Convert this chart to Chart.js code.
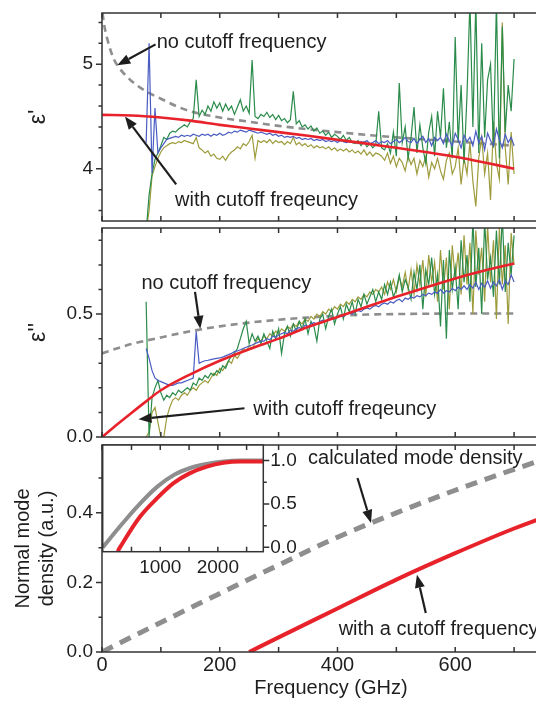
<!DOCTYPE html>
<html>
<head>
<meta charset="utf-8">
<script src="https://cdn.jsdelivr.net/npm/chart.js@4.4.0/dist/chart.umd.min.js"></script>
<style>
  html, body { margin: 0; padding: 0; background: #fff; }
  #fig { position: relative; width: 536px; height: 710px; overflow: hidden; background: #fff; }
  #fig canvas { position: absolute; }
</style>
</head>
<body>
<div id="fig">
  <canvas id="p1" width="560" height="224" style="left:0;top:0"></canvas>
  <canvas id="p2" width="560" height="230" style="left:0;top:224px"></canvas>
  <canvas id="p3" width="560" height="270" style="left:0;top:440px"></canvas>
  <canvas id="inset" width="260" height="150" style="left:60px;top:440px"></canvas>
</div>
<script>
'use strict';

function byId(id) { return document.getElementById(id); }

// measured spectra, 75..700 GHz every 5 GHz
const freq = [
  75, 80, 85, 90, 95, 100, 105, 110, 115, 120,
  125, 130, 135, 140, 145, 150, 155, 160, 165, 170,
  175, 180, 185, 190, 195, 200, 205, 210, 215, 220,
  225, 230, 235, 240, 245, 250, 255, 260, 265, 270,
  275, 280, 285, 290, 295, 300, 305, 310, 315, 320,
  325, 330, 335, 340, 345, 350, 355, 360, 365, 370,
  375, 380, 385, 390, 395, 400, 405, 410, 415, 420,
  425, 430, 435, 440, 445, 450, 455, 460, 465, 470,
  475, 480, 485, 490, 495, 500, 505, 510, 515, 520,
  525, 530, 535, 540, 545, 550, 555, 560, 565, 570,
  575, 580, 585, 590, 595, 600, 605, 610, 615, 620,
  625, 630, 635, 640, 645, 650, 655, 660, 665, 670,
  675, 680, 685, 690, 695, 700
];

const eps1Green = [
  3.40, 3.75, 3.95, 4.09, 4.15, 4.22, 4.30, 4.28, 4.34, 4.36,
  4.35, 4.38, 4.40, 4.42, 4.40, 4.45, 4.48, 4.85, 4.50, 4.56,
  4.52, 4.60, 4.55, 4.64, 4.58, 4.63, 4.55, 4.62, 4.56, 4.60,
  4.52, 4.59, 4.66, 4.55, 4.60, 4.53, 5.04, 4.50, 4.48, 4.52,
  4.50, 4.54, 4.49, 4.52, 4.47, 4.51, 4.46, 4.48, 4.44, 4.47,
  4.74, 4.43, 4.46, 4.40, 4.42, 4.38, 4.41, 4.36, 4.39, 4.34,
  4.36, 4.32, 4.35, 4.30, 4.33, 4.31, 4.28, 4.32, 4.27, 4.30,
  4.25, 4.24, 4.27, 4.22, 4.26, 4.21, 4.24, 4.20, 4.23, 4.55,
  4.20, 4.18, 4.24, 4.15, 4.35, 4.12, 4.82, 4.25, 4.40, 4.10,
  4.30, 4.59, 4.15, 4.42, 4.20, 4.05, 4.35, 4.50, 4.12, 4.55,
  4.30, 4.77, 4.20, 4.45, 4.10, 5.26, 4.25, 4.80, 4.05, 4.70,
  5.60, 4.40, 5.60, 4.15, 5.20, 4.30, 4.85, 5.00, 4.20, 5.60,
  4.10, 5.36, 4.35, 4.80, 4.55, 5.05
];
const eps1Blue = [
  4.25, 5.20, 3.96, 4.58, 4.15, 4.20, 4.24, 4.28, 4.29, 4.30,
  4.31, 4.30, 4.32, 4.31, 4.32, 4.31, 4.33, 4.32, 4.31, 4.33,
  4.32, 4.33, 4.31, 4.33, 4.32, 4.34, 4.32, 4.33, 4.35, 4.34,
  4.36, 4.35, 4.37, 4.36, 4.35, 4.37, 4.36, 4.35, 4.34, 4.35,
  4.34, 4.33, 4.34, 4.32, 4.33, 4.31, 4.32, 4.30, 4.31, 4.30,
  4.31, 4.29, 4.30, 4.28, 4.29, 4.28, 4.29, 4.27, 4.28, 4.27,
  4.28, 4.26, 4.27, 4.26, 4.27, 4.25, 4.27, 4.26, 4.25, 4.26,
  4.25, 4.26, 4.24, 4.26, 4.25, 4.27, 4.24, 4.25, 4.27, 4.24,
  4.26, 4.25, 4.27, 4.24, 4.26, 4.28, 4.25, 4.27, 4.30, 4.26,
  4.25, 4.29, 4.24, 4.28, 4.31, 4.25, 4.29, 4.22, 4.30, 4.27,
  4.30, 4.24, 4.33, 4.27, 4.22, 4.34, 4.28, 4.20, 4.32, 4.26,
  4.30, 4.22, 4.36, 4.25, 4.31, 4.18, 4.34, 4.27, 4.22, 4.38,
  4.28, 4.20, 4.33, 4.25, 4.30, 4.22
];
const eps1Olive = [
  3.40, 3.60, 3.93, 4.02, 4.10, 4.16, 4.20, 4.22, 4.24, 4.25,
  4.24, 4.26, 4.25, 4.27, 4.26, 4.25, 4.24, 4.30, 4.20, 4.18,
  4.15, 4.17, 4.12, 4.14, 4.10, 4.09, 4.12, 4.08, 4.13, 4.16,
  4.18, 4.21, 4.19, 4.24, 4.22, 4.26, 4.32, 4.10, 4.27, 4.25,
  4.27, 4.25, 4.28, 4.24, 4.27, 4.25, 4.26, 4.23, 4.26, 4.24,
  4.30, 4.23, 4.25, 4.22, 4.24, 4.21, 4.23, 4.20, 4.22, 4.20,
  4.21, 4.19, 4.21, 4.18, 4.20, 4.17, 4.19, 4.17, 4.19, 4.16,
  4.18, 4.15, 4.17, 4.14, 4.18, 4.13, 4.16, 4.12, 4.15, 4.14,
  4.12, 4.08, 4.15, 4.05, 4.12, 4.02, 4.10, 4.06, 3.98, 4.12,
  4.04, 4.10, 3.95, 4.08, 4.02, 4.12, 3.92, 4.06, 4.00, 4.10,
  3.98, 3.90, 4.08, 4.15, 3.95, 4.02, 4.20, 3.85, 4.10, 3.95,
  4.25, 3.88, 3.64, 4.10, 4.30, 3.95, 4.15, 3.70, 4.45, 4.05,
  3.90, 5.40, 4.20, 3.85, 4.35, 3.95
];

const eps2Green = [
  0.55, 0.00, 0.16, 0.20, 0.23, 0.18, 0.15, 0.17, 0.16, 0.18,
  0.17, 0.19, 0.18, 0.19, 0.20, 0.19, 0.22, 0.21, 0.24, 0.23,
  0.25, 0.24, 0.26, 0.25, 0.27, 0.26, 0.29, 0.28, 0.31, 0.33,
  0.34, 0.36, 0.40, 0.44, 0.47, 0.38, 0.42, 0.39, 0.41, 0.38,
  0.42, 0.39, 0.36, 0.43, 0.40, 0.44, 0.34, 0.42, 0.45, 0.41,
  0.46, 0.43, 0.47, 0.44, 0.48, 0.42, 0.47, 0.45, 0.39, 0.48,
  0.50, 0.44, 0.49, 0.52, 0.46, 0.50, 0.53, 0.48, 0.54, 0.51,
  0.55, 0.50, 0.56, 0.53, 0.58, 0.54, 0.57, 0.60, 0.55, 0.59,
  0.56, 0.62, 0.58, 0.63, 0.57, 0.60, 0.66, 0.59, 0.64, 0.61,
  0.56, 0.67, 0.60, 0.70, 0.52, 0.68, 0.62, 0.73, 0.58, 0.66,
  0.45, 0.72, 0.40, 0.76, 0.60, 0.69, 0.52, 0.80, 0.63, 0.74,
  0.55, 0.88, 0.61, 0.77, 0.50, 0.88, 0.64, 0.73, 0.57, 0.84,
  0.62, 0.90, 0.59, 0.79, 0.66, 0.82
];
const eps2Blue = [
  0.36, 0.32, 0.27, 0.24, 0.23, 0.225, 0.22, 0.215, 0.21, 0.21,
  0.215, 0.22, 0.22, 0.225, 0.23, 0.235, 0.24, 0.43, 0.30, 0.306,
  0.31, 0.312, 0.315, 0.318, 0.32, 0.322, 0.325, 0.33, 0.335, 0.34,
  0.347, 0.35, 0.355, 0.36, 0.365, 0.37, 0.374, 0.38, 0.385, 0.39,
  0.39, 0.40, 0.395, 0.41, 0.405, 0.415, 0.42, 0.425, 0.42, 0.435,
  0.43, 0.44, 0.445, 0.44, 0.455, 0.45, 0.46, 0.465, 0.46, 0.47,
  0.475, 0.47, 0.48, 0.485, 0.48, 0.49, 0.495, 0.49, 0.50, 0.505,
  0.50, 0.51, 0.515, 0.51, 0.52, 0.525, 0.52, 0.53, 0.535, 0.53,
  0.54, 0.545, 0.54, 0.55, 0.545, 0.555, 0.56, 0.55, 0.565, 0.56,
  0.57, 0.565, 0.575, 0.57, 0.58, 0.575, 0.585, 0.58, 0.59, 0.585,
  0.60, 0.585, 0.595, 0.59, 0.605, 0.595, 0.61, 0.60, 0.615, 0.60,
  0.62, 0.605, 0.63, 0.60, 0.625, 0.61, 0.635, 0.605, 0.63, 0.615,
  0.64, 0.60, 0.635, 0.62, 0.66, 0.63
];
const eps2Olive = [
  0.00, 0.02, 0.10, 0.12, 0.06, 0.00, 0.00, 0.08, 0.12, 0.15,
  0.16, 0.15, 0.17, 0.18, 0.17, 0.19, 0.20, 0.19, 0.21, 0.22,
  0.23, 0.22, 0.24, 0.26, 0.25, 0.28, 0.27, 0.29, 0.31, 0.30,
  0.33, 0.32, 0.34, 0.36, 0.35, 0.37, 0.36, 0.38, 0.40, 0.39,
  0.41, 0.40, 0.42, 0.41, 0.43, 0.42, 0.44, 0.43, 0.45, 0.44,
  0.46, 0.45, 0.47, 0.46, 0.48, 0.47, 0.49, 0.48, 0.50, 0.49,
  0.51, 0.50, 0.52, 0.51, 0.53, 0.52, 0.54, 0.53, 0.55, 0.54,
  0.56, 0.55, 0.57, 0.56, 0.58, 0.57, 0.59, 0.58, 0.60, 0.59,
  0.61, 0.58, 0.63, 0.60, 0.64, 0.59, 0.65, 0.61, 0.67, 0.60,
  0.68, 0.58, 0.70, 0.62, 0.72, 0.57, 0.74, 0.63, 0.71, 0.55,
  0.76, 0.60, 0.73, 0.52, 0.78, 0.64, 0.75, 0.58, 0.82, 0.62,
  0.79, 0.50, 0.84, 0.66, 0.77, 0.55, 0.86, 0.63, 0.80, 0.48,
  0.85, 0.62, 0.78, 0.46, 0.83, 0.70
];

// model curves
const fitFreq1 = [0, 50, 100, 150, 200, 250, 300, 350, 400, 450, 500, 550, 600, 650, 700];
const eps1Fit = [4.515, 4.51, 4.49, 4.46, 4.42, 4.385, 4.35, 4.315, 4.277, 4.24, 4.20, 4.16, 4.115, 4.06, 4.00];
const noCutFreq1 = [1, 3, 10, 20, 30, 50, 75, 100, 130, 150, 200, 250, 300, 400, 500, 600, 700];
const eps1NoCut = [5.49, 5.40, 5.22, 5.05, 4.96, 4.84, 4.74, 4.67, 4.59, 4.55, 4.49, 4.45, 4.41, 4.35, 4.30, 4.26, 4.22];

const fitFreq2 = [0, 25, 50, 75, 100, 150, 200, 250, 300, 350, 400, 450, 500, 550, 600, 650, 700];
const eps2Fit = [0, 0.05, 0.098, 0.145, 0.19, 0.255, 0.31, 0.357, 0.40, 0.447, 0.488, 0.53, 0.57, 0.608, 0.645, 0.677, 0.706];
const noCutFreq2 = [0, 25, 50, 100, 150, 200, 250, 300, 350, 400, 450, 500, 600, 700];
const eps2NoCut = [0.34, 0.36, 0.378, 0.405, 0.43, 0.45, 0.465, 0.477, 0.486, 0.493, 0.498, 0.50, 0.502, 0.502];

const modeFreq = [0, 100, 200, 300, 400, 500, 600, 700, 780];
const modeNoCut = [0, 0.085, 0.168, 0.25, 0.33, 0.40, 0.465, 0.525, 0.57];
const modeCutFreq = [250, 300, 400, 500, 600, 700, 780];
const modeCut = [0, 0.042, 0.125, 0.208, 0.284, 0.355, 0.405];

const insetFreqA = [0, 350, 600, 950, 1250, 1520, 1800, 2100, 2400, 2790];
const insetNoCut = [0, 0.28, 0.47, 0.70, 0.84, 0.915, 0.96, 0.99, 1.0, 1.0];
const insetFreqB = [260, 300, 650, 950, 1230, 1500, 1810, 2100, 2390, 2790];
const insetCut = [-0.045, 0, 0.355, 0.57, 0.74, 0.85, 0.93, 0.975, 0.99, 0.99];

// tick labels
const freqTicks = [0, 200, 400, 600];
const eps1Ticks = [4, 5];
const eps2Ticks = [0, 0.5];
const modeTicks = [0, 0.2, 0.4];
const insetXTicks = [1000, 2000];
const insetYTicks = [0, 0.5, 1.0];

const GREEN = '#2b8b4b';
const BLUE = '#4a5cc2';
const OLIVE = '#9d9b3b';
const RED = '#e8222b';
const GRAY = '#8e8e8e';
const INK = '#1e1e1e';
const FONT = '"Liberation Sans", Arial, sans-serif';
const X_MAX = 778;

Chart.defaults.font.family = FONT;
Chart.defaults.color = INK;


function series(xs, ys, color, width, dash, smooth) {
  return {
    data: xs.map((x, i) => ({ x: x, y: ys[i] })),
    borderColor: color,
    borderWidth: width,
    borderDash: dash || [],
    pointRadius: 0,
    fill: false,
    tension: 0,
    cubicInterpolationMode: smooth ? 'monotone' : 'default'
  };
}

// keep the plot area exactly where the padding puts it
function noLabelPadding(s) {
  s.paddingTop = 0;
  s.paddingBottom = 0;
  s.paddingLeft = 0;
  s.paddingRight = 0;
}


// box around plot area with inward x ticks and outward y ticks
function framePlugin(f) {
  return {
    id: 'frame',
    beforeDatasetsDraw(chart) {
      if (!f.fill) return;
      const a = chart.chartArea;
      chart.ctx.save();
      chart.ctx.fillStyle = '#fff';
      chart.ctx.fillRect(a.left, a.top, a.width, a.height);
      chart.ctx.restore();
    },
    afterDraw(chart) {
      const { ctx, chartArea: a } = chart;
      const xs = chart.scales.x;
      const ys = chart.scales.y;
      ctx.save();
      ctx.strokeStyle = '#333';
      ctx.lineWidth = 1.5;
      ctx.strokeRect(a.left, a.top, a.width, a.height);
      ctx.beginPath();
      for (let i = 0; f.xFrom + i * f.xStep <= xs.max; i++) {
        const px = xs.getPixelForValue(f.xFrom + i * f.xStep);
        ctx.moveTo(px, a.bottom);
        ctx.lineTo(px, a.bottom - 5);
        ctx.moveTo(px, a.top);
        ctx.lineTo(px, a.top + 5);
      }
      for (let i = 0; f.yFrom + i * f.yStep <= ys.max + 1e-9; i++) {
        const v = f.yFrom + i * f.yStep;
        const py = ys.getPixelForValue(v);
        const major = f.yMajor.some(m => Math.abs(m - v) < 1e-6);
        const len = major ? 6 : 3.5;
        if (f.right) {
          ctx.moveTo(a.right, py);
          ctx.lineTo(a.right + len, py);
        } else {
          ctx.moveTo(a.left - len, py);
          ctx.lineTo(a.left, py);
        }
      }
      ctx.stroke();
      ctx.restore();
    }
  };
}


function drawArrow(ctx, x0, y0, x1, y1) {
  const ang = Math.atan2(y1 - y0, x1 - x0);
  const head = 13;
  const half = 5;
  const bx = x1 - head * Math.cos(ang);
  const by = y1 - head * Math.sin(ang);
  ctx.beginPath();
  ctx.moveTo(x0, y0);
  ctx.lineTo(bx, by);
  ctx.stroke();
  ctx.beginPath();
  ctx.moveTo(x1, y1);
  ctx.lineTo(bx + half * Math.sin(ang), by - half * Math.cos(ang));
  ctx.lineTo(bx - half * Math.sin(ang), by + half * Math.cos(ang));
  ctx.closePath();
  ctx.fill();
}

// labels with arrows, placed in data coordinates
function notesPlugin(items) {
  return {
    id: 'notes',
    afterDraw(chart) {
      const { ctx } = chart;
      const xs = chart.scales.x;
      const ys = chart.scales.y;
      ctx.save();
      ctx.font = '20px ' + FONT;
      ctx.fillStyle = INK;
      ctx.strokeStyle = INK;
      ctx.lineWidth = 2.2;
      ctx.textBaseline = 'middle';
      ctx.textAlign = 'left';
      for (let it of items) {
        ctx.fillText(it.text, xs.getPixelForValue(it.at[0]), ys.getPixelForValue(it.at[1]));
        drawArrow(ctx,
          xs.getPixelForValue(it.from[0]), ys.getPixelForValue(it.from[1]),
          xs.getPixelForValue(it.to[0]), ys.getPixelForValue(it.to[1]));
      }
      ctx.restore();
    }
  };
}


function yAxis(min, max, ticks, fmt, title, titleSize, titlePad) {
  return {
    type: 'linear',
    min: min,
    max: max,
    afterFit: s => { s.width = 102; noLabelPadding(s); },
    afterBuildTicks: s => { s.ticks = ticks.map(v => ({ value: v })); },
    ticks: { padding: 9, font: { size: 19 }, color: INK, callback: fmt },
    grid: { display: false, drawTicks: false },
    border: { display: false },
    title: {
      display: true,
      text: title,
      color: INK,
      font: { size: titleSize, lineHeight: 1.2 },
      padding: { top: titlePad, bottom: 0 }
    }
  };
}

function hiddenX() {
  return { type: 'linear', min: 0, max: X_MAX, display: false };
}

function baseOptions(padding, scales) {
  return {
    animation: false,
    responsive: false,
    devicePixelRatio: 1,
    layout: { padding: padding },
    plugins: { legend: { display: false }, tooltip: { enabled: false } },
    scales: scales
  };
}


// panel 1: real part
new Chart(byId('p1'), {
  type: 'line',
  data: {
    datasets: [
      series(fitFreq1, eps1Fit, RED, 2.6, null, true),
      series(freq, eps1Blue, BLUE, 1.2),
      series(freq, eps1Green, GREEN, 1.2),
      series(freq, eps1Olive, OLIVE, 1.2),
      series(noCutFreq1, eps1NoCut, GRAY, 2.6, [7, 5], true)
    ]
  },
  options: baseOptions({ left: 0, right: 0, top: 13, bottom: 3 }, {
    x: hiddenX(),
    y: yAxis(3.5, 5.49, eps1Ticks, v => String(v), "ε'", 23, 25)
  }),
  plugins: [
    framePlugin({ xFrom: 0, xStep: 100, yFrom: 3.6, yStep: 0.2, yMajor: eps1Ticks }),
    notesPlugin([
      { text: 'no cutoff frequency', at: [93, 5.21], from: [91, 5.19], to: [26, 4.99] },
      { text: 'with cutoff freqeuncy', at: [124, 3.70], from: [126, 3.85], to: [39, 4.50] }
    ])
  ]
});

// panel 2: imaginary part
new Chart(byId('p2'), {
  type: 'line',
  data: {
    datasets: [
      series(fitFreq2, eps2Fit, RED, 2.6, null, true),
      series(freq, eps2Blue, BLUE, 1.2),
      series(freq, eps2Green, GREEN, 1.2),
      series(freq, eps2Olive, OLIVE, 1.2),
      series(noCutFreq2, eps2NoCut, GRAY, 2.6, [7, 5], true)
    ]
  },
  options: baseOptions({ left: 0, right: 0, top: 4, bottom: 17 }, {
    x: hiddenX(),
    y: yAxis(0, 0.85, eps2Ticks, v => v.toFixed(1), "ε''", 23, 25)
  }),
  plugins: [
    framePlugin({ xFrom: 0, xStep: 100, yFrom: 0, yStep: 0.1, yMajor: eps2Ticks }),
    notesPlugin([
      { text: 'no cutoff frequency', at: [67, 0.625], from: [158, 0.59], to: [167, 0.44] },
      { text: 'with cutoff freqeuncy', at: [257, 0.11], from: [242, 0.117], to: [62, 0.072] }
    ])
  ]
});

// panel 3: normal mode density
new Chart(byId('p3'), {
  type: 'line',
  data: {
    datasets: [
      series(modeCutFreq, modeCut, RED, 4, null, true),
      series(modeFreq, modeNoCut, GRAY, 5, [12, 8], true)
    ]
  },
  options: baseOptions({ left: 0, right: 0, top: 5, bottom: 0 }, {
    x: {
      type: 'linear',
      min: 0,
      max: X_MAX,
      afterFit: s => { s.height = 58; noLabelPadding(s); },
      afterBuildTicks: s => { s.ticks = freqTicks.map(v => ({ value: v })); },
      ticks: { padding: 1, font: { size: 20 }, color: INK, maxRotation: 0, autoSkip: false, callback: v => String(v) },
      grid: { display: false, drawTicks: false },
      border: { display: false },
      title: { display: true, text: 'Frequency (GHz)', color: INK, font: { size: 20 }, padding: { top: 0, bottom: 10 } }
    },
    y: yAxis(0, 0.595, modeTicks, v => v.toFixed(1), ['Normal mode', 'density (a.u.)'], 20, 11)
  }),
  plugins: [
    framePlugin({ xFrom: 0, xStep: 100, yFrom: 0, yStep: 0.1, yMajor: modeTicks }),
    notesPlugin([
      { text: 'calculated mode density', at: [350, 0.555], from: [434, 0.50], to: [457, 0.371] },
      { text: 'with a cutoff frequency', at: [402, 0.066], from: [550, 0.112], to: [535, 0.222] }
    ])
  ]
});

// inset: mode density over a wider range
new Chart(byId('inset'), {
  type: 'line',
  data: {
    datasets: [
      series(insetFreqB, insetCut, RED, 4, null, true),
      series(insetFreqA, insetNoCut, GRAY, 4, null, true)
    ]
  },
  options: baseOptions({ left: 42.7, right: 0, top: 5, bottom: 0 }, {
    x: {
      type: 'linear',
      min: 0,
      max: 2790,
      afterFit: s => { s.height = 38.3; noLabelPadding(s); },
      afterBuildTicks: s => { s.ticks = insetXTicks.map(v => ({ value: v })); },
      ticks: { padding: 5, font: { size: 19 }, color: INK, maxRotation: 0, autoSkip: false, callback: v => String(v) },
      grid: { display: false, drawTicks: false },
      border: { display: false }
    },
    y: {
      type: 'linear',
      position: 'right',
      min: -0.05,
      max: 1.18,
      afterFit: s => { s.width = 56.7; noLabelPadding(s); },
      afterBuildTicks: s => { s.ticks = insetYTicks.map(v => ({ value: v })); },
      ticks: { padding: 7, font: { size: 19 }, color: INK, callback: v => v.toFixed(1) },
      grid: { display: false, drawTicks: false },
      border: { display: false }
    }
  }),
  plugins: [
    framePlugin({ xFrom: 500, xStep: 500, yFrom: 0, yStep: 0.25, yMajor: insetYTicks, right: true, fill: true })
  ]
});
</script>
</body>
</html>
